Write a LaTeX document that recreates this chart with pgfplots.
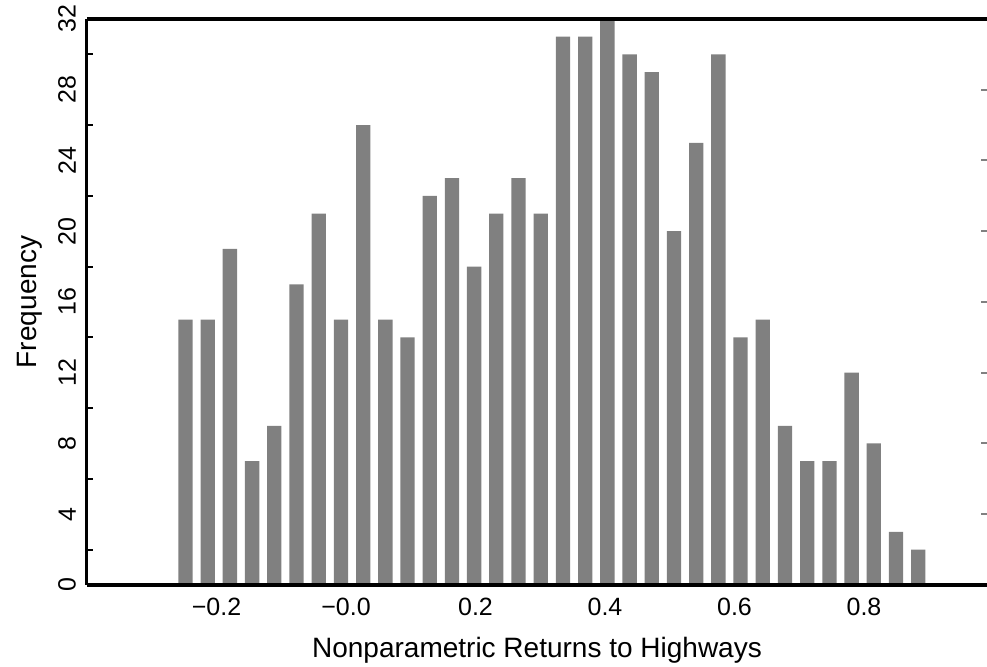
\documentclass[border=0pt]{standalone}
\usepackage{pgfplots}
\pgfplotsset{compat=1.18}
\usepackage{fontspec}
\setmainfont{Liberation Sans}

\definecolor{bargray}{RGB}{128,128,128}

\pgfplotstableread{
x       freq
-0.2479 15
-0.2136 15
-0.1793 19
-0.1450 7
-0.1107 9
-0.0764 17
-0.0421 21
-0.0078 15
0.0265  26
0.0608  15
0.0950  14
0.1293  22
0.1636  23
0.1979  18
0.2322  21
0.2665  23
0.3008  21
0.3351  31
0.3694  31
0.4037  32
0.4380  30
0.4723  29
0.5066  20
0.5409  25
0.5751  30
0.6094  14
0.6437  15
0.6780  9
0.7123  7
0.7466  7
0.7809  12
0.8152  8
0.8495  3
0.8838  2
}\histdata

\begin{document}
\begin{tikzpicture}
\begin{axis}[
    scale only axis,
    width=450pt,
    height=283pt,
    xmin=-0.4, xmax=0.99,
    ymin=0, ymax=32,
    ybar,
    bar width=0.0221,
    axis line style={draw=none},
    xtick={-0.2,0,0.2,0.4,0.6,0.8},
    xticklabels={−0.2,−0.0,0.2,0.4,0.6,0.8},
    xtick style={draw=none},
    ytick={0,4,...,32},
    ytick pos=right,
    yticklabel pos=left,
    tick align=inside,
    major tick length=3pt,
    ytick style={line width=1pt},
    /pgf/number format/assume math mode=true,
    tick label style={font=\fontsize{12.5}{14}\selectfont},
    yticklabel style={rotate=90, anchor=south},
    yticklabel shift=2pt,
    xticklabel shift=3pt,
    xlabel={Nonparametric Returns to Highways},
    ylabel={Frequency},
    label style={font=\fontsize{14}{16}\selectfont},
    xlabel style={yshift=-4pt},
    ylabel style={yshift=1pt},
    clip=false,
]
\addplot[fill=bargray, draw=none] table[x=x, y=freq] {\histdata};
\draw[line width=2pt] (rel axis cs:0,1) -- (rel axis cs:1,1);
\draw[line width=2pt] (rel axis cs:0,0) -- (rel axis cs:1,0);
\draw[line width=1.5pt] (rel axis cs:0,0) -- (rel axis cs:0,1);
\pgfplotsinvokeforeach{2,6,10,14,18,22,26,30}{
  \draw[line width=1pt] (axis cs:-0.4,#1) -- ([xshift=3pt]axis cs:-0.4,#1);
}
\coordinate (bl) at (rel axis cs:0,0);
\coordinate (tr) at (rel axis cs:1,1);
\end{axis}
\pgfresetboundingbox
\path[use as bounding box] ([shift={(-43.5pt,-41pt)}]bl) rectangle ([shift={(0pt,9.5pt)}]tr);
\end{tikzpicture}
\end{document}
